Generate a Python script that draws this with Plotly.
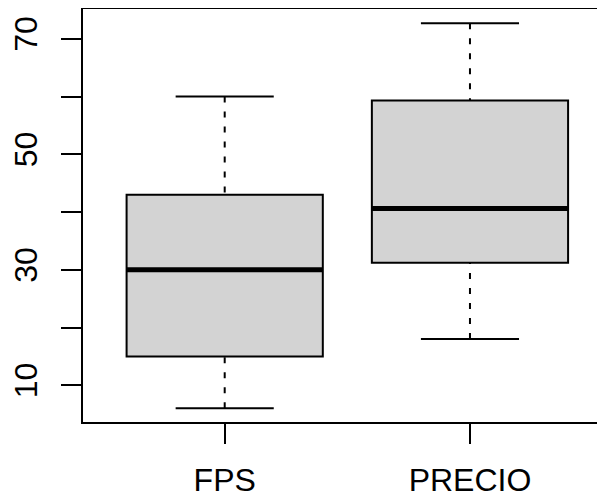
import plotly.graph_objects as go

categories = ["FPS", "PRECIO"]
lower_whisker = [6, 18]
q1 = [15, 31.2]
median = [30, 40.6]
q3 = [43, 59.3]
upper_whisker = [60, 72.7]
y_tick_values = [10, 20, 30, 40, 50, 60, 70]
y_tick_labels = ["10", "", "30", "", "50", "", "70"]

positions = list(range(1, len(categories) + 1))
BOX_HALF = 0.4
CAP_HALF = 0.2
FONT = "Liberation Sans, Arial, Helvetica, sans-serif"

fig = go.Figure()

fig.add_trace(go.Box(
    x=positions, q1=q1, median=median, q3=q3,
    lowerfence=q1, upperfence=q3,
    width=BOX_HALF * 2, whiskerwidth=0,
    fillcolor="#D3D3D3", line=dict(color="black", width=2),
    boxpoints=False, showlegend=False, hoverinfo="skip",
))

# dashed whiskers (drawn from whisker end towards the box, as R does)
wx, wy = [], []
for p, lo, a, b, hi in zip(positions, lower_whisker, q1, q3, upper_whisker):
    wx += [p, p, None, p, p, None]
    wy += [lo, a, None, hi, b, None]
fig.add_trace(go.Scatter(x=wx, y=wy, mode="lines",
                         line=dict(color="black", width=2, dash="6px,9px"),
                         showlegend=False, hoverinfo="skip"))

# whisker caps
cx, cy = [], []
for p, lo, hi in zip(positions, lower_whisker, upper_whisker):
    cx += [p - CAP_HALF, p + CAP_HALF, None, p - CAP_HALF, p + CAP_HALF, None]
    cy += [lo, lo, None, hi, hi, None]
fig.add_trace(go.Scatter(x=cx, y=cy, mode="lines",
                         line=dict(color="black", width=2),
                         showlegend=False, hoverinfo="skip"))

# thick medians
mx, my = [], []
for p, m in zip(positions, median):
    mx += [p - BOX_HALF, p + BOX_HALF, None]
    my += [m, m, None]
fig.add_trace(go.Scatter(x=mx, y=my, mode="lines",
                         line=dict(color="black", width=5),
                         showlegend=False, hoverinfo="skip"))

# the page body has an 8px margin, so the figure is shrunk by that amount
fig.update_layout(
    width=597, height=491,
    margin=dict(l=75, r=0, t=1, b=77, autoexpand=False),
    plot_bgcolor="white", paper_bgcolor="white",
    font=dict(family=FONT, size=32, color="black"),
    xaxis=dict(
        range=[0.4223, 2.5505], tickmode="array", tickvals=positions,
        ticktext=categories, showgrid=False, zeroline=False,
        showline=True, linecolor="black", linewidth=2, mirror=True,
        ticks="outside", ticklen=20, tickwidth=2, tickcolor="black",
        ticklabelstandoff=9, automargin=False,
    ),
    yaxis=dict(
        range=[3.64, 75.15], tickmode="array", tickvals=y_tick_values,
        ticktext=y_tick_labels, showgrid=False, zeroline=False,
        showline=True, linecolor="black", linewidth=2,
        ticks="outside", ticklen=20, tickwidth=2, tickcolor="black",
        tickangle=-90, ticklabelstandoff=11, automargin=False,
    ),
)

fig.write_html("out.html")
